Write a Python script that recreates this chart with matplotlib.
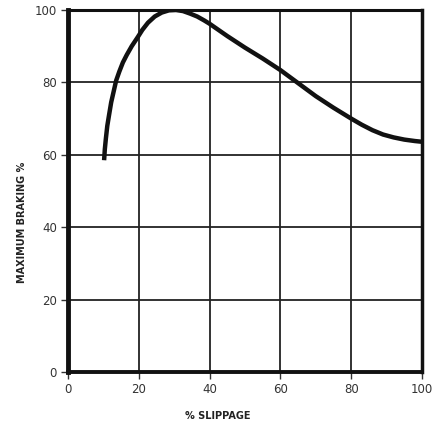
import numpy as np
import matplotlib.pyplot as plt

# curve: % slippage vs maximum braking %
slip = [10.2, 10.4, 10.7, 11.1, 11.6, 12.2, 12.9, 13.6, 14.5, 15.5, 16.6, 18, 19.7,
        21, 22.6, 24.5, 26.5, 28.5, 30.5, 32.5, 34.5, 36.5, 38.5, 40, 42.5, 45,
        47.5, 50, 55, 60, 65, 70, 75, 80, 83, 86, 89, 92, 95, 98, 100]
braking = [58.5, 61.5, 64.5, 68, 71, 74.5, 77.5, 80.5, 83, 85.5, 87.6, 90, 92.5,
           94.5, 96.5, 98.2, 99.3, 99.9, 100, 99.7, 99, 98.2, 97.1, 96.2, 94.5, 92.8,
           91.2, 89.6, 86.6, 83.4, 79.8, 76.2, 73, 70, 68.3, 66.8, 65.6, 64.8, 64.2,
           63.8, 63.6]

x_ticks = [0, 20, 40, 60, 80, 100]
y_ticks = [0, 20, 40, 60, 80, 100]

fig = plt.figure(figsize=(4.36, 4.28), dpi=100)
ax = fig.add_axes([68 / 436, 56 / 428, 354 / 436, 362 / 428])

ax.plot(slip, braking, color='#111111', lw=3.2, solid_capstyle='butt',
        solid_joinstyle='round', zorder=3)

ax.set_xlim(0, 100)
ax.set_ylim(0, 100)
ax.set_xticks(x_ticks)
ax.set_yticks(y_ticks)
ax.grid(True, color='#222222', lw=1.3)
ax.tick_params(direction='out', length=5, width=1, labelsize=8.5, colors='#333333', pad=3)

for side in ['left', 'bottom', 'right', 'top']:
    ax.spines[side].set_color('#111111')
ax.spines['left'].set_linewidth(3.5)
ax.spines['bottom'].set_linewidth(2.8)
ax.spines['right'].set_linewidth(2.5)
ax.spines['top'].set_linewidth(2.2)

fig.text(218 / 436, 1 - 416 / 428, '% SLIPPAGE', ha='center', va='center',
         fontsize=7, fontweight='bold', color='#222222')
fig.text(22 / 436, 1 - 222 / 428, 'MAXIMUM BRAKING %', ha='center', va='center',
         rotation=90, fontsize=7, fontweight='bold', color='#222222')

fig.savefig('out.png', dpi=100)
